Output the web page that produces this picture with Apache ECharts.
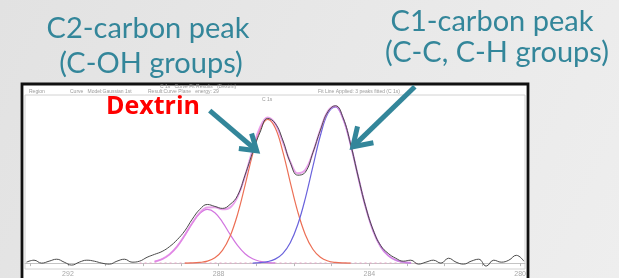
<!DOCTYPE html>
<html>
<head>
<meta charset="utf-8">
<script src="https://cdn.jsdelivr.net/npm/echarts@6/dist/echarts.min.js"></script>
<style>
  html, body { margin: 0; padding: 0; }
  #chart { width: 619px; height: 278px; }
</style>
</head>
<body>
<div id="chart"></div>
<script>
// C 1s scan, binding energy (eV), high to low as on the instrument
const bindingEnergy = [
  293.1, 292.9, 292.7, 292.5, 292.3, 292.1, 291.9, 291.7, 291.5, 291.3,
  291.1, 290.9, 290.7, 290.5, 290.3, 290.1, 289.9, 289.7, 289.5, 289.3,
  289.1, 288.9, 288.7, 288.5, 288.3, 288.1, 287.9, 287.7, 287.5, 287.3,
  287.1, 286.9, 286.7, 286.5, 286.3, 286.1, 285.9, 285.7, 285.5, 285.3,
  285.1, 284.9, 284.7, 284.5, 284.3, 284.1, 283.9, 283.7, 283.5, 283.3,
  283.1, 282.9, 282.7, 282.5, 282.3, 282.1, 281.9, 281.7, 281.5, 281.3,
  281.1, 280.9, 280.7, 280.5, 280.3, 280.1, 279.9
];
// measured counts (arbitrary units above background)
const measured = [
  1, 3, 0, 2, 4, 1, -2, 1, 3, 2,
  0, -1, 2, 4, 1, 2, 6, 9, 12, 17,
  24, 33, 45, 55, 60, 58, 56, 60, 69, 90,
  113, 134, 148, 143, 126, 103, 90, 93, 113, 136,
  155, 161, 149, 122, 89, 58, 34, 18, 10, 5,
  2, 3, -1, 1, 3, 0, 5, 1, -1, 2,
  4, -3, 3, 1, 3, 8, 2
];
// fitted components live on 289.7 .. 282.9
const componentEnergy = bindingEnergy.slice(17, 52);
const shoulderPeak = [
  1.6, 4.1, 9.0, 17.1, 28.4, 40.8, 50.9, 55.0, 51.6, 42.0,
  29.6, 18.1, 9.6, 4.4, 1.8, 0.6, 0.2, null, null, null,
  null, null, null, null, null, null, null, null, null, null,
  null, null, null, null, null
];
const c2Peak = [
  null, null, null, null, 0.1, 0.2, 0.7, 2.0, 5.5, 13.1,
  27.2, 49.7, 79.5, 111.3, 136.7, 147.0, 138.5, 114.4, 82.7, 52.4,
  29.1, 14.2, 6.0, 2.2, 0.7, 0.2, 0.1, null, null, null,
  null, null, null, null, null
];
const c1Peak = [
  null, null, null, null, null, null, null, null, null, null,
  null, null, null, 0.1, 0.5, 1.5, 4.1, 9.8, 20.9, 39.5,
  66.3, 98.7, 130.6, 153.3, 159.8, 147.9, 121.6, 88.7, 57.5, 33.1,
  16.9, 7.7, 3.1, 1.1, 0.3
];
const envelope = [
  1.6, 4.1, 9.0, 17.1, 28.5, 41.0, 51.6, 57.0, 57.1, 55.1,
  56.8, 67.8, 89.1, 115.8, 139.0, 149.1, 142.8, 124.2, 103.6, 91.9,
  95.4, 112.9, 136.6, 155.5, 160.5, 148.1, 121.7, 88.7, 57.5, 33.1,
  16.9, 7.7, 3.1, 1.1, 0.3
];
const baselineEnergy = [290.1, 282.7];
const tickValues = [280, 281, 282, 283, 284, 285, 286, 287, 288, 289, 290, 291, 292, 293];
const labelValues = [280, 284, 288, 292];

const teal = '#33869a';

const pairs = (xs, ys) => ys.map((v, i) => [xs[i], v]).filter(p => p[1] !== null);

const chart = echarts.init(document.getElementById('chart'));

chart.setOption({
  animation: false,
  backgroundColor: {
    type: 'linear', x: 0, y: 0, x2: 1, y2: 1,
    colorStops: [{ offset: 0, color: '#e2e2e2' }, { offset: 1, color: '#eeeeee' }]
  },
  grid: {
    left: 25, right: 94, top: 95, bottom: 5,
    show: true, backgroundColor: 'transparent', borderColor: '#d2d2d2', borderWidth: 1
  },
  xAxis: {
    type: 'value',
    inverse: true,
    min: 279.87,
    max: 293.14,
    axisLine: { lineStyle: { color: '#c4c4c4', width: 1 } },
    axisTick: { customValues: tickValues, length: 3, lineStyle: { color: '#b8b8b8' } },
    axisLabel: {
      customValues: labelValues, fontSize: 7, color: '#a8a8a8', margin: 2,
      fontFamily: 'Liberation Sans'
    },
    splitLine: { show: false }
  },
  yAxis: { type: 'value', min: -6, max: 172, show: false },
  series: [
    {
      name: 'baseline', type: 'line', symbol: 'none', silent: true,
      data: baselineEnergy.map(e => [e, 0]),
      lineStyle: { color: '#e4a9c8', width: 1.2, type: [2, 3] }
    },
    {
      name: 'shoulder', type: 'line', symbol: 'none', smooth: 0.4,
      data: pairs(componentEnergy, shoulderPeak),
      lineStyle: { color: '#d276e0', width: 1.2 }
    },
    {
      name: 'C2', type: 'line', symbol: 'none', smooth: 0.4,
      data: pairs(componentEnergy, c2Peak),
      lineStyle: { color: '#ec6f55', width: 1.2 }
    },
    {
      name: 'C1', type: 'line', symbol: 'none', smooth: 0.4,
      data: pairs(componentEnergy, c1Peak),
      lineStyle: { color: '#6a63dc', width: 1.2 }
    },
    {
      name: 'envelope', type: 'line', symbol: 'none', smooth: 0.4,
      data: pairs(componentEnergy, envelope),
      lineStyle: { color: '#e48ae6', width: 2, opacity: 0.8 }
    },
    {
      name: 'measured', type: 'line', symbol: 'none', smooth: 0.45,
      data: pairs(bindingEnergy, measured),
      lineStyle: { color: '#4a4a4a', width: 1 }
    }
  ]
});

// thick slide-style arrow: shaft plus open chevron head
function arrow(tipData, dx, dy, headLen) {
  const tip = chart.convertToPixel({ gridIndex: 0 }, tipData);
  const ang = Math.atan2(dy, dx);
  const spread = 33 * Math.PI / 180;
  const w1 = [tip[0] + headLen * Math.cos(ang + spread), tip[1] + headLen * Math.sin(ang + spread)];
  const w2 = [tip[0] + headLen * Math.cos(ang - spread), tip[1] + headLen * Math.sin(ang - spread)];
  return [
    {
      type: 'polyline', z: 100,
      shape: { points: [[tip[0] + dx, tip[1] + dy], [tip[0] + 2 * Math.cos(ang), tip[1] + 2 * Math.sin(ang)]] },
      style: { stroke: teal, lineWidth: 5, fill: null }
    },
    {
      type: 'polyline', z: 100,
      shape: { points: [w1, tip, w2] },
      style: { stroke: teal, lineWidth: 5, fill: null, lineJoin: 'miter' }
    }
  ];
}

const headerFont = '5px "Liberation Sans"';
const header = (text, x, y) => ({
  type: 'text', z: 5, x, y,
  style: { text, font: headerFont, fill: '#9a9a9a', verticalAlign: 'middle' }
});

const title = (text, x, y) => ({
  type: 'text', z: 100, x, y,
  style: { text, font: '29px Lato', fill: teal, align: 'center', verticalAlign: 'middle' }
});

chart.setOption({
  graphic: [
    {
      type: 'rect', z: -10,
      shape: { x: 22, y: 84, width: 506, height: 220 },
      style: { fill: '#ffffff', stroke: '#111111', lineWidth: 2.8 }
    },
    header('C 1s   Curve Fit Results   (Dextrin)', 160, 87),
    header('Region', 29, 91.5),
    header('Curve   Model:Gaussian 1st', 70, 91.5),
    header('Result:Curve Plane   energy: 29', 148, 91.5),
    header('Fit Line Applied: 3 peaks fitted (C 1s)', 318, 91.5),
    header('C 1s', 262, 100),
    title('C2-carbon peak', 148, 29),
    title('(C-OH groups)', 151, 64),
    title('C1-carbon peak', 492, 21.5),
    title('(C-C, C-H groups)', 497, 52.5),
    {
      type: 'text', z: 100, x: 106, y: 106.5,
      style: { text: 'Dextrin', font: 'bold 25px "Open Sans"', fill: '#ff0000', verticalAlign: 'middle' }
    },
    ...arrow([286.99, 115], -47, -40, 18),
    ...arrow([284.44, 119], 62, -60, 21)
  ]
});
</script>
</body>
</html>
